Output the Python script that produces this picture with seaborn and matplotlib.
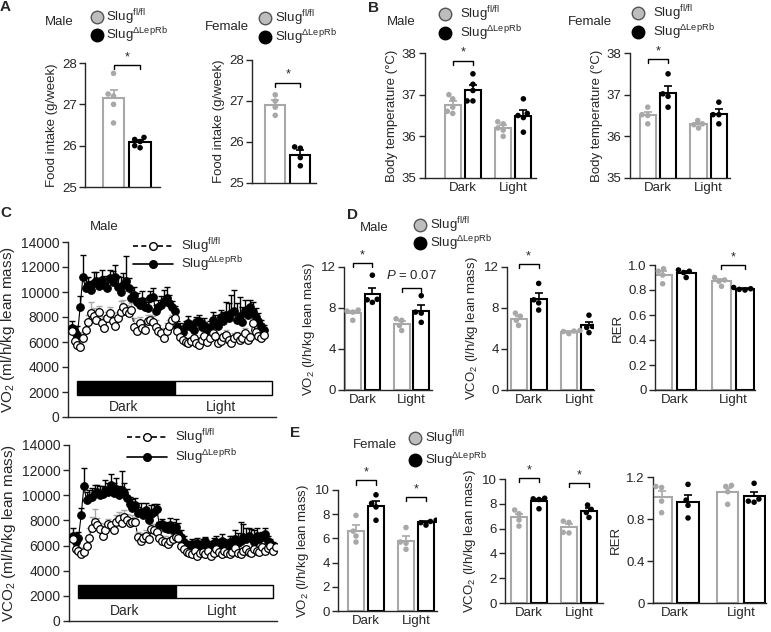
import numpy as np
import pandas as pd
import seaborn as sns
import matplotlib.pyplot as plt
from matplotlib.lines import Line2D
from matplotlib.patches import Rectangle

sns.set_style("ticks")
plt.rcParams['font.family'] = ['Liberation Sans', 'DejaVu Sans']
plt.rcParams['mathtext.fontset'] = 'custom'
plt.rcParams['mathtext.rm'] = 'Liberation Sans'
plt.rcParams['mathtext.it'] = 'Liberation Sans:italic'
plt.rcParams['font.size'] = 9.5
plt.rcParams['axes.linewidth'] = 1.0

W, H = 771, 632
GREY = "#a8a8a8"
FL = r"Slug$^{\mathrm{fl/fl}}$"
KO = r"Slug$^{\mathrm{\Delta LepRb}}$"
genotypes = ["fl/fl", "ΔLepRb"]
phases = ["Dark", "Light"]

# ---- A: food intake (g/week)
food_male_fl = [27.75, 27.25, 27.2, 27.0, 26.55]
food_male_ko = [26.2, 26.15, 26.1, 26.0, 25.95]
food_female_fl = [27.15, 27.0, 26.85, 26.65]
food_female_ko = [25.88, 25.85, 25.62, 25.42]

# ---- B: body temperature
temp_male_dark_fl = [37.0, 36.9, 36.7, 36.6, 36.55]
temp_male_dark_ko = [37.5, 37.25, 37.1, 36.85, 36.85]
temp_male_light_fl = [36.35, 36.3, 36.2, 36.15, 36.0]
temp_male_light_ko = [36.9, 36.55, 36.5, 36.45, 36.1]
temp_female_dark_fl = [36.7, 36.52, 36.5, 36.3]
temp_female_dark_ko = [37.5, 37.02, 36.96, 36.7]
temp_female_light_fl = [36.38, 36.3, 36.28, 36.2]
temp_female_light_ko = [36.82, 36.52, 36.52, 36.3]

# ---- D: male averages
vo2_male_dark_fl = [7.8, 7.7, 7.6, 6.8]
vo2_male_dark_ko = [11.2, 8.85, 8.8, 8.55]
vo2_male_light_fl = [6.95, 6.8, 6.3, 5.8]
vo2_male_light_ko = [9.2, 7.6, 7.5, 6.6]
vco2_male_dark_fl = [7.5, 7.2, 6.8, 6.3]
vco2_male_dark_ko = [10.4, 8.8, 8.5, 7.8]
vco2_male_light_fl = [5.8, 5.75, 5.7, 5.5]
vco2_male_light_ko = [7.3, 6.2, 6.1, 5.6]
rer_male_dark_fl = [0.97, 0.95, 0.92, 0.85]
rer_male_dark_ko = [0.96, 0.95, 0.94, 0.9]
rer_male_light_fl = [0.9, 0.88, 0.87, 0.83]
rer_male_light_ko = [0.82, 0.81, 0.805, 0.8]

# ---- E: female averages
vo2_female_dark_fl = [7.9, 6.6, 6.2, 5.7]
vo2_female_dark_ko = [9.6, 8.9, 8.6, 7.5]
vo2_female_light_fl = [6.9, 5.7, 5.6, 5.1]
vo2_female_light_ko = [7.5, 7.4, 7.3, 7.1]
vco2_female_dark_fl = [7.5, 7.2, 6.7, 6.2]
vco2_female_dark_ko = [8.45, 8.4, 8.35, 7.6]
vco2_female_light_fl = [6.6, 6.5, 5.7, 5.65]
vco2_female_light_ko = [7.9, 7.55, 7.3, 6.9]
rer_female_dark_fl = [1.11, 1.1, 0.97, 0.86]
rer_female_dark_ko = [1.13, 0.98, 0.93, 0.81]
rer_female_light_fl = [1.12, 1.11, 1.06, 0.94]
rer_female_light_ko = [1.14, 0.99, 0.97, 0.96]

# ---- C: time courses (ml/h/kg lean mass), mean and upper SEM
male_vo2_fl = [6900, 6100, 5800, 5600, 6300, 7000, 7600, 8300, 8100, 7800,
               8400, 7500, 7100, 7900, 8300, 7700, 7300, 7900, 8400, 8800,
               8500, 8300, 8600, 7200, 6900, 7500, 7100, 7000, 7700, 7800,
               7600, 7200, 6900, 6700, 6300, 6900, 7300, 7800, 7900, 6900,
               6400, 6200, 6000, 5900, 6100, 6300, 5900, 5800, 6200, 6500,
               6000, 6300, 6700, 6500, 5900, 6100, 6400, 6600, 6200, 5900,
               6300, 6500, 6200, 6300, 6700, 6200, 6400, 7500, 6800, 6500,
               6300, 6600]
male_vo2_fl_sem = [500, 400, 300, 300, 500, 700, 600, 900, 600, 500,
                   500, 600, 700, 500, 500, 600, 700, 500, 900, 600,
                   500, 600, 500, 700, 600, 500, 500, 600, 500, 400,
                   500, 600, 500, 400, 500, 600, 500, 400, 500, 400,
                   300, 400, 300, 400, 300, 400, 300, 300, 400, 300,
                   400, 300, 400, 300, 300, 400, 300, 400, 300, 300,
                   400, 300, 400, 300, 400, 300, 400, 500, 400, 300,
                   400, 300]
male_vo2_ko = [7100, 6800, 6600, 8800, 11200, 10300, 10600, 10200, 10700, 10900,
               10500, 11000, 10600, 10300, 11100, 10800, 11200, 10400, 10000, 10600,
               10900, 10300, 9500, 9800, 9200, 9000, 9300, 8800, 8700, 9500,
               9600, 8500, 8800, 9000, 9300, 9500, 9100, 8800, 8500, 7200,
               6900, 6800, 7300, 7500, 7200, 7000, 7600, 7700, 7200, 7400,
               7000, 7200, 7800, 7500, 7300, 8000, 7700, 8200, 7900, 8300,
               8500, 7800, 8100, 7600, 8500, 8200, 8800, 8400, 8000, 7700,
               7300, 7000]
male_vo2_ko_sem = [600, 500, 700, 900, 1800, 800, 600, 700, 900, 700,
                   600, 800, 700, 800, 700, 900, 1000, 900, 1200, 900,
                   2000, 800, 700, 600, 700, 500, 800, 700, 500, 600,
                   700, 500, 600, 700, 900, 900, 700, 500, 400, 500,
                   600, 500, 400, 600, 500, 600, 400, 500, 600, 500,
                   400, 500, 600, 700, 500, 600, 700, 1000, 1200, 1500,
                   1700, 1300, 1500, 1200, 900, 700, 600, 800, 700, 600,
                   500, 400]

female_vco2_fl = [6500, 5700, 5600, 5300, 5500, 6000, 6600, 7400, 7900, 7600,
                  7300, 6800, 7200, 7700, 7600, 7200, 7900, 8100, 7800, 8300,
                  8000, 7800, 7900, 7900, 6700, 6400, 6600, 6800, 6500, 7300,
                  7200, 7100, 6600, 6400, 6300, 6100, 6400, 6500, 6700, 6600,
                  6000, 5700, 5500, 5400, 5300, 5600, 5200, 5400, 5500, 5300,
                  5600, 5200, 5400, 5700, 5500, 5300, 5600, 5400, 5300, 5500,
                  5800, 5400, 5300, 5600, 5700, 5500, 5400, 5700, 5600, 5500,
                  5900, 5600, 5800, 6000, 5600, 5900]
female_vco2_fl_sem = [400, 300, 300, 300, 400, 600, 800, 900, 1000, 600,
                      500, 400, 500, 400, 300, 400, 500, 600, 700, 500,
                      500, 400, 500, 400, 400, 500, 400, 400, 300, 400,
                      500, 400, 500, 400, 500, 400, 300, 400, 300, 400,
                      300, 300, 400, 300, 300, 400, 300, 300, 300, 300,
                      300, 300, 200, 300, 300, 300, 200, 300, 300, 300,
                      300, 300, 300, 200, 300, 300, 300, 300, 300, 300,
                      300, 300, 300, 300, 300, 300]
female_vco2_ko = [6800, 6300, 6600, 8400, 10700, 9600, 9800, 9900, 10200, 10300,
                  10000, 10100, 10400, 10300, 10800, 10200, 10500, 10000, 10400, 10200,
                  9800, 9300, 9000, 9200, 8600, 8700, 8400, 8800, 8000, 8500,
                  8700, 8900, 7600, 7700, 7400, 7300, 7600, 7200, 7500, 7000,
                  6700, 6300, 6000, 5800, 6100, 5900, 6200, 5800, 6100, 6400,
                  6000, 5800, 6200, 6300, 6000, 6400, 6100, 5900, 6300, 6200,
                  6500, 6200, 6400, 6700, 6500, 6800, 6600, 6300, 6800, 6500,
                  6700, 6900, 6400, 6200, 6000, 5800]
female_vco2_ko_sem = [600, 700, 500, 600, 1500, 700, 600, 700, 600, 500,
                      700, 600, 800, 700, 900, 800, 900, 700, 1500, 800,
                      700, 600, 700, 600, 500, 700, 500, 600, 500, 700,
                      600, 400, 300, 400, 500, 500, 600, 700, 600, 800,
                      500, 500, 400, 300, 400, 300, 400, 300, 400, 300,
                      400, 300, 400, 500, 400, 500, 400, 300, 500, 600,
                      700, 800, 1500, 1000, 900, 600, 700, 900, 600, 500,
                      400, 500, 400, 300, 300, 300]

bar_colors = {"fl/fl": GREY, "ΔLepRb": "black"}


def add_ax(fig, left, top, right, bottom):
    return fig.add_axes([left / W, 1 - bottom / H, (right - left) / W, (bottom - top) / H])


def fig_xy(x, y):
    return x / W, 1 - y / H


def bar_panel(ax, cells, ylim, yticks, ylabel, xlim, yticklabels=None):
    df = pd.DataFrame([(p, g, v) for p, g, vals in cells for v in vals],
                      columns=["phase", "genotype", "value"])
    order = list(dict.fromkeys(df["phase"]))
    sns.barplot(data=df, x="phase", y="value", hue="genotype", order=order,
                hue_order=genotypes, palette=bar_colors, errorbar=None, fill=False,
                gap=0.2, linewidth=1.5, legend=False, ax=ax)
    stats = df.groupby(["phase", "genotype"])["value"].agg(["mean", "sem"])
    for i, p in enumerate(order):
        for j, g in enumerate(genotypes):
            m, s = stats.loc[(p, g)]
            ax.errorbar(i + (j - 0.5) * 0.4, m, yerr=[[0], [s]], color=bar_colors[g],
                        capsize=3, elinewidth=1.2, capthick=1.2, zorder=3)
    sns.swarmplot(data=df, x="phase", y="value", hue="genotype", order=order,
                  hue_order=genotypes, palette=bar_colors, dodge=True, size=4,
                  legend=False, ax=ax, zorder=4)
    ax.set_xlim(*xlim)
    ax.set_ylim(*ylim)
    ax.set_yticks(yticks)
    if yticklabels is not None:
        ax.set_yticklabels(yticklabels)
    ax.set_xlabel("")
    ax.set_ylabel(ylabel, fontsize=9.5, labelpad=3)
    sns.despine(ax=ax)
    ax.tick_params(axis='x', length=0, labelsize=9.5, pad=3)
    ax.tick_params(axis='y', length=4, width=1, labelsize=9.5, pad=2)
    if order == ["all"]:
        ax.set_xticklabels([])


def bracket(ax, x0, x1, y, drop, text, size=9):
    ax.plot([x0, x0, x1, x1], [y - drop, y, y, y - drop], color="black", lw=1, clip_on=False)
    ax.text((x0 + x1) / 2, y + drop * 0.4, text, ha="center", va="bottom",
            fontsize=size, clip_on=False)


def genotype_key(fig, x, y1, y2, tx):
    for y, lab, fc, ec in [(y1, FL, "#bdbdbd", "#555555"), (y2, KO, "black", "black")]:
        fig.add_artist(Line2D([x / W], [1 - y / H], transform=fig.transFigure, ls="",
                              marker="o", ms=9, mfc=fc, mec=ec, mew=1))
        fig.text(tx / W, 1 - (y + 4.5) / H, lab, va="baseline", ha="left", fontsize=9.5)


def trace_key(fig, x0, x1, y, lab, ls, mfc):
    fig.add_artist(Line2D([x0 / W, x1 / W], [1 - y / H] * 2, transform=fig.transFigure,
                          color="black", lw=1.2, ls=ls))
    fig.add_artist(Line2D([(x0 + x1) / 2 / W], [1 - y / H], transform=fig.transFigure, ls="",
                          marker="o", ms=5.5, mfc=mfc, mec="black", mew=1))
    fig.text((x1 + 8) / W, 1 - (y + 4.5) / H, lab, va="baseline", ha="left", fontsize=9.5)


def trace_panel(ax, fl, fl_sem, ko, ko_sem, ylabel):
    t_fl = np.arange(len(fl))
    t_ko = np.arange(len(ko))
    ax.errorbar(t_fl, fl, yerr=[np.zeros(len(fl)), fl_sem], fmt="none", ecolor=GREY,
                elinewidth=1, capsize=2.2, capthick=1, zorder=2)
    ax.errorbar(t_ko, ko, yerr=[np.zeros(len(ko)), ko_sem], fmt="none", ecolor="black",
                elinewidth=1, capsize=2.2, capthick=1, zorder=2)
    sns.lineplot(x=t_ko, y=ko, ax=ax, color="black", lw=0.8, marker="o", ms=5.5,
                 mfc="black", mec="black", errorbar=None, zorder=3)
    sns.lineplot(x=t_fl, y=fl, ax=ax, color="black", lw=0.8, ls="--", marker="o", ms=5.5,
                 mfc="white", mec="black", mew=0.9, errorbar=None, zorder=4)
    ax.add_patch(Rectangle((2, 1800), 36, 1100, fc="black", ec="black", lw=1, zorder=2))
    ax.add_patch(Rectangle((38, 1800), 36, 1100, fc="white", ec="black", lw=1, zorder=2))
    ax.text(19, 800, "Dark", ha="center", va="center", fontsize=10)
    ax.text(55, 800, "Light", ha="center", va="center", fontsize=10)
    ax.set_xlim(-1.5, 75.5)
    ax.set_ylim(0, 14000)
    ax.set_yticks(range(0, 14001, 2000))
    ax.set_xticks([])
    ax.set_ylabel(ylabel, fontsize=11, labelpad=3)
    sns.despine(ax=ax)
    ax.tick_params(axis='y', length=4, width=1, labelsize=10, pad=2)


fig = plt.figure(figsize=(W / 100, H / 100), dpi=100)

# ---------------- A
ax = add_ax(fig, 85, 63, 160, 187)
bar_panel(ax, [("all", "fl/fl", food_male_fl), ("all", "ΔLepRb", food_male_ko)],
          (25, 28), [25, 26, 27, 28], "Food intake (g/week)", (-0.63, 0.5))
bracket(ax, -0.2, 0.2, 27.95, 0.1, "*")
ax = add_ax(fig, 252, 60, 316, 183)
bar_panel(ax, [("all", "fl/fl", food_female_fl), ("all", "ΔLepRb", food_female_ko)],
          (25, 28), [25, 26, 27, 28], "Food intake (g/week)", (-0.57, 0.45))
bracket(ax, -0.2, 0.2, 27.45, 0.1, "*")

# ---------------- B
ax = add_ax(fig, 425, 53, 536, 178)
bar_panel(ax, [("Dark", "fl/fl", temp_male_dark_fl), ("Dark", "ΔLepRb", temp_male_dark_ko),
               ("Light", "fl/fl", temp_male_light_fl), ("Light", "ΔLepRb", temp_male_light_ko)],
          (35, 38), [35, 36, 37, 38], "Body temperature (°C)", (-0.75, 1.45))
bracket(ax, -0.2, 0.2, 37.82, 0.1, "*")
ax = add_ax(fig, 630, 53, 730, 178)
bar_panel(ax, [("Dark", "fl/fl", temp_female_dark_fl), ("Dark", "ΔLepRb", temp_female_dark_ko),
               ("Light", "fl/fl", temp_female_light_fl), ("Light", "ΔLepRb", temp_female_light_ko)],
          (35, 38), [35, 36, 37, 38], "Body temperature (°C)", (-0.55, 1.42))
bracket(ax, -0.2, 0.2, 37.85, 0.1, "*")

# ---------------- C
ax = add_ax(fig, 68, 242, 276, 417)
trace_panel(ax, male_vo2_fl, male_vo2_fl_sem, male_vo2_ko, male_vo2_ko_sem,
            r"VO$_2$ (ml/h/kg lean mass)")
ax = add_ax(fig, 69, 445, 277, 621)
trace_panel(ax, female_vco2_fl, female_vco2_fl_sem, female_vco2_ko, female_vco2_ko_sem,
            r"VCO$_2$ (ml/h/kg lean mass)")

# ---------------- D
ax = add_ax(fig, 344, 267, 432, 390)
bar_panel(ax, [("Dark", "fl/fl", vo2_male_dark_fl), ("Dark", "ΔLepRb", vo2_male_dark_ko),
               ("Light", "fl/fl", vo2_male_light_fl), ("Light", "ΔLepRb", vo2_male_light_ko)],
          (0, 12), [0, 4, 8, 12], r"VO$_2$ (l/h/kg lean mass)", (-0.38, 1.42))
bracket(ax, -0.2, 0.2, 12.4, 0.4, "*")
bracket(ax, 0.8, 1.2, 10.0, 0.4, "")
ax.text(1.0, 10.5, r"$\mathit{P}$ = 0.07", ha="center", va="bottom", fontsize=9.5)
ax = add_ax(fig, 507, 267, 594, 390)
bar_panel(ax, [("Dark", "fl/fl", vco2_male_dark_fl), ("Dark", "ΔLepRb", vco2_male_dark_ko),
               ("Light", "fl/fl", vco2_male_light_fl), ("Light", "ΔLepRb", vco2_male_light_ko)],
          (0, 12), [0, 4, 8, 12], r"VCO$_2$ (l/h/kg lean mass)", (-0.43, 1.3))
bracket(ax, -0.2, 0.2, 12.3, 0.4, "*")
ax = add_ax(fig, 655, 265, 755, 390)
bar_panel(ax, [("Dark", "fl/fl", rer_male_dark_fl), ("Dark", "ΔLepRb", rer_male_dark_ko),
               ("Light", "fl/fl", rer_male_light_fl), ("Light", "ΔLepRb", rer_male_light_ko)],
          (0, 1.0), [0, 0.2, 0.4, 0.6, 0.8, 1.0], "RER", (-0.33, 1.37),
          ["0", "0.2", "0.4", "0.6", "0.8", "1.0"])
bracket(ax, 0.8, 1.2, 1.0, 0.035, "*")

# ---------------- E
ax = add_ax(fig, 338, 490, 437, 611)
bar_panel(ax, [("Dark", "fl/fl", vo2_female_dark_fl), ("Dark", "ΔLepRb", vo2_female_dark_ko),
               ("Light", "fl/fl", vo2_female_light_fl), ("Light", "ΔLepRb", vo2_female_light_ko)],
          (0, 10), [0, 2, 4, 6, 8, 10], r"VO$_2$ (l/h/kg lean mass)", (-0.56, 1.42))
bracket(ax, -0.2, 0.2, 10.8, 0.35, "*")
bracket(ax, 0.8, 1.2, 9.4, 0.35, "*")
ax = add_ax(fig, 505, 479, 603, 603)
bar_panel(ax, [("Dark", "fl/fl", vco2_female_dark_fl), ("Dark", "ΔLepRb", vco2_female_dark_ko),
               ("Light", "fl/fl", vco2_female_light_fl), ("Light", "ΔLepRb", vco2_female_light_ko)],
          (0, 10), [0, 2, 4, 6, 8, 10], r"VCO$_2$ (l/h/kg lean mass)", (-0.48, 1.48))
bracket(ax, -0.2, 0.2, 10.1, 0.35, "*")
bracket(ax, 0.8, 1.2, 9.7, 0.35, "*")
ax = add_ax(fig, 653, 477, 766, 603)
bar_panel(ax, [("Dark", "fl/fl", rer_female_dark_fl), ("Dark", "ΔLepRb", rer_female_dark_ko),
               ("Light", "fl/fl", rer_female_light_fl), ("Light", "ΔLepRb", rer_female_light_ko)],
          (0, 1.2), [0, 0.4, 0.8, 1.2], "RER", (-0.33, 1.38), ["0", "0.4", "0.8", "1.2"])

# ---------------- titles, keys and panel letters
for x, y, s in [(45, 22, "Male"), (205, 27, "Female"), (387, 22, "Male"), (568, 22, "Female"),
                (90, 227, "Male"), (360, 228, "Male"), (353, 445, "Female")]:
    fig.text(*fig_xy(x, y), s, ha="left", va="center", fontsize=9.5)

genotype_key(fig, 97, 17, 35, 106)
genotype_key(fig, 265, 18, 37, 275)
genotype_key(fig, 445, 14, 33, 460)
genotype_key(fig, 638, 13, 32, 653)
genotype_key(fig, 420, 225, 243, 430)
genotype_key(fig, 415, 438, 460, 425)

trace_key(fig, 133, 173, 246, FL, (0, (3, 2)), "white")
trace_key(fig, 133, 173, 264, KO, "-", "black")
trace_key(fig, 127, 167, 437, FL, (0, (3, 2)), "white")
trace_key(fig, 127, 167, 457, KO, "-", "black")

for x, y, s in [(0, 7, "A"), (368, 8, "B"), (0, 213, "C"), (347, 215, "D"), (290, 433, "E")]:
    fig.text(*fig_xy(x, y), s, ha="left", va="center", fontsize=11, fontweight="bold")

fig.savefig("out.png", dpi=100)
